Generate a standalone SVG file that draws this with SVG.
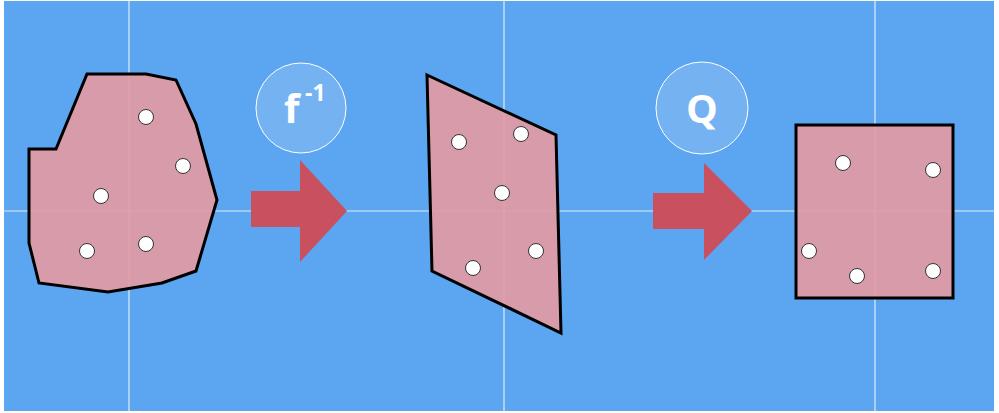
<svg xmlns="http://www.w3.org/2000/svg" width="999" height="413" viewBox="0 0 999 413">
<style>
.grid{stroke:#ffffff;stroke-opacity:0.8;stroke-width:1.2}
.shape{fill:#e29aa4;fill-opacity:0.93;stroke:#000;stroke-width:3;stroke-linejoin:miter}
.dot{fill:#fff;stroke:#333;stroke-width:1}
.arrow{fill:#c8505f}
.badge{fill:#fff;fill-opacity:0.15;stroke:#fff;stroke-width:1}
.lbl{font-family:"Open Sans","Liberation Sans",sans-serif;font-weight:bold;fill:#fff}
</style>
<rect x="0" y="0" width="999" height="413" fill="#fff"/>
<rect x="4" y="1" width="990" height="410" fill="#5ca5f0"/>
<g id="grid">
<line class="grid" x1="129" y1="1" x2="129" y2="411"/>
<line class="grid" x1="504" y1="1" x2="504" y2="411"/>
<line class="grid" x1="875" y1="1" x2="875" y2="411"/>
<line class="grid" x1="4" y1="211" x2="994" y2="211"/>
</g>
<g id="shape-original">
<polygon class="shape" points="87,74 146,74 176,80 196,124 217,200 196,271 162,283 108,292 39,283 29,243 29,149 56,149"/>
<circle class="dot" cx="146" cy="117" r="7.5"/>
<circle class="dot" cx="183" cy="166" r="7.5"/>
<circle class="dot" cx="101" cy="196" r="7.5"/>
<circle class="dot" cx="87" cy="251" r="7.5"/>
<circle class="dot" cx="146" cy="244" r="7.5"/>
</g>
<g id="connectors">
<polygon class="arrow" points="251,191 300,191 300,160 347,211 300,262 300,227 251,227"/>
<polygon class="arrow" points="653,193 704,193 704,163 752,211 704,260 704,229 653,229"/>
</g>
<g id="label-finv">
<circle class="badge" cx="301" cy="108" r="45"/>
<text class="lbl" x="284" y="123" font-size="40">f</text>
<text class="lbl" x="305" y="101" font-size="23">-1</text>
</g>
<g id="shape-parallelogram">
<polygon class="shape" points="427,75 556,135 561,333 432,271"/>
<circle class="dot" cx="459" cy="142" r="7.5"/>
<circle class="dot" cx="521" cy="134" r="7.5"/>
<circle class="dot" cx="502" cy="193" r="7.5"/>
<circle class="dot" cx="536" cy="251" r="7.5"/>
<circle class="dot" cx="473" cy="268" r="7.5"/>
</g>
<g id="label-q">
<circle class="badge" cx="702" cy="108" r="46"/>
<text class="lbl" x="702" y="123" font-size="40" text-anchor="middle">Q</text>
</g>
<g id="shape-square">
<rect class="shape" x="796" y="125" width="157" height="173"/>
<circle class="dot" cx="843" cy="163" r="7.5"/>
<circle class="dot" cx="933" cy="170" r="7.5"/>
<circle class="dot" cx="809" cy="251" r="7.5"/>
<circle class="dot" cx="857" cy="276" r="7.5"/>
<circle class="dot" cx="933" cy="271" r="7.5"/>
</g>
</svg>
